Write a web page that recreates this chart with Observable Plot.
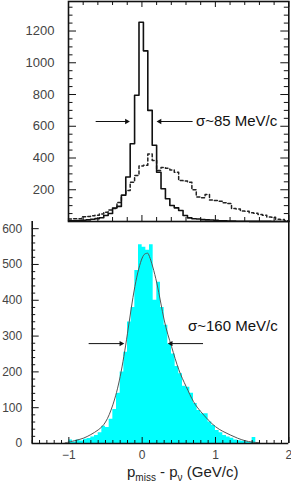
<!DOCTYPE html>
<html><head><meta charset="utf-8">
<script src="https://cdn.jsdelivr.net/npm/d3@7"></script>
<script src="https://cdn.jsdelivr.net/npm/@observablehq/plot@0.6"></script>
<style>
html,body{margin:0;padding:0;background:#fff;}
#wrap{position:relative;width:291px;height:485px;overflow:hidden;font-family:"Liberation Sans",Arial,sans-serif;}
#wrap svg{position:absolute;left:0;top:0;}
#xlabel{position:absolute;left:127px;top:463px;font-size:15px;line-height:18px;color:#222;white-space:nowrap;}
#xlabel .s{font-size:10px;position:relative;top:4px;}
</style></head><body>
<div id="wrap"><div id="xlabel">p<span class="s">miss</span> - p<span class="s">ν</span> (GeV/c)</div></div>
<script>
// ---------- top panel: two histograms (50 bins of 0.06 from -1 to 2)
const topBinStart = -1;
const topBinWidth = 0.06;
const topSolid = [4,5,6,8,10,14,18,24,38,50, 85,95,165,280,490,795,1255,1075,700,480,
  310,206,143,101,86,69,38,23,17,16, 12,10,9,7,5,4,3,3,2,2, 2,1,1,1,1,1,0,0,0,0];
const topDashed = [15,17,18,30,32,36,40,48,58,72, 82,120,165,195,248,290,350,355,425,385,
  322,340,335,325,310,258,255,248,200,155, 150,170,135,132,128,118,113,82,78,66,
  64,55,52,44,40,28,26,14,12,5];
const topYTickLabels = [200,400,600,800,1000,1200];
const topArrows = [{x1:-0.63, x2:-0.18, y:630, dir:1}, {x1:0.69, x2:0.215, y:630, dir:-1}];
const topNote = [{x:0.735, y:630, text:"σ~85 MeV/c"}];

// ---------- bottom panel: histogram (bins of 0.05 from -1.05) + fitted curve
const botBinStart = -1.05;
const botBinWidth = 0.05;
const botCounts = [0,10,4,10,7,12,14,18,22,30, 48,45,68,95,140,200,255,339,380,483,
  555,548,540,555,400,450,380,330,278,250, 215,195,160,157,140,112,92,83,83,60,
  50,36,30,22,18,15,10,8,6,5, 3,17,0];
const fitX = [-1.05,-1.0,-0.9,-0.8,-0.7,-0.6,-0.5,-0.4,-0.3,-0.2,-0.1,0,0.06,0.1,0.2,0.3,0.4,0.5,0.6,0.7,0.8,0.9,1.0,1.1,1.2,1.3,1.4,1.5,1.6];
const fitY = [2,4,9,15,25,38,60,108,187,308,438,518,531,522,448,345,271,206,159,117,89,66,47,34,24,15,8,4,2];
const botXTickLabels = [-1,0,1,2];
const botYTickLabels = [0,100,200,300,400,500,600];
const botArrows = [{x1:-0.73, x2:-0.26, y:279, dir:1}, {x1:0.83, x2:0.365, y:279, dir:-1}];
const botNote = [{x:0.625, y:327, text:"σ~160 MeV/c"}];

const W = 291;
const font = '"Liberation Sans", Arial, sans-serif';
const ink = "#111";
const fmt = d => (d < 0 ? "\u2212" + (-d) : String(d));

function stepPoints(start, w, vals) {
  const pts = vals.map((v, i) => ({x: start + i * w, y: v}));
  pts.push({x: start + vals.length * w, y: vals[vals.length - 1]});
  return pts;
}
function arrowMarks(arr) {
  return [
    Plot.link(arr, {x1: "x1", x2: "x2", y1: "y", y2: "y", stroke: ink, strokeWidth: 1}),
    Plot.dot(arr.filter(d => d.dir > 0), {x: "x2", y: "y", symbol: "triangle2", rotate: 90, r: 2.6, fill: ink, dx: -2}),
    Plot.dot(arr.filter(d => d.dir < 0), {x: "x2", y: "y", symbol: "triangle2", rotate: -90, r: 2.6, fill: ink, dx: 2})
  ];
}

// ---------- top plot
{
  const ml = 68, mr = 2.7, mt = 1, mb = 1, H = 222;
  const xd = [-1, 2], yd = [0, 1386];
  const kx = (W - ml - mr) / (xd[1] - xd[0]);
  const ky = (H - mt - mb) / (yd[1] - yd[0]);
  const yT = d3.range(0, 1351, 50);
  const xT = d3.range(0, 16).map(i => -1 + i * 0.2);
  const yLen = v => (v % 200 === 0 ? 8 : 4.5);
  const xLen = v => (Math.abs(v - Math.round(v)) < 1e-6 ? 6 : 4);
  const p = Plot.plot({
    width: W, height: H, marginLeft: ml, marginRight: mr, marginTop: mt, marginBottom: mb,
    style: {background: "transparent", fontFamily: font, fontSize: "13px", color: "#444", overflow: "visible"},
    x: {domain: xd, axis: null},
    y: {domain: yd, ticks: topYTickLabels, tickFormat: fmt, tickSize: 0, tickPadding: 14, label: null},
    marks: [
      Plot.lineY(stepPoints(topBinStart, topBinWidth, topDashed), {x: "x", y: "y", curve: "step-after", stroke: "#222", strokeWidth: 1.5, strokeDasharray: "3,2.5"}),
      Plot.lineY(stepPoints(topBinStart, topBinWidth, topSolid), {x: "x", y: "y", curve: "step-after", stroke: ink, strokeWidth: 1.6}),
      Plot.ruleY(yT, {y: d => d, x1: xd[0], x2: d => xd[0] + yLen(d) / kx, stroke: ink}),
      Plot.ruleY(yT, {y: d => d, x1: d => xd[1] - yLen(d) / kx, x2: xd[1], stroke: ink}),
      Plot.ruleX(xT, {x: d => d, y1: yd[0], y2: d => yd[0] + xLen(d) / ky, stroke: ink}),
      Plot.ruleX(xT, {x: d => d, y1: d => yd[1] - xLen(d) / ky, y2: yd[1], stroke: ink}),
      Plot.frame({stroke: ink, strokeWidth: 1.6}),
      ...arrowMarks(topArrows),
      Plot.text(topNote, {x: "x", y: "y", text: "text", textAnchor: "start", fontSize: 15, fill: "#111"})
    ]
  });
  document.getElementById("wrap").appendChild(p);
}

// ---------- bottom plot
{
  const ml = 31.7, mr = 2.7, mt = 221, mb = 20, H = 463;
  const xd = [-1.5, 2], yd = [0, 620];
  const kx = (W - ml - mr) / (xd[1] - xd[0]);
  const ky = (H - mt - mb) / (yd[1] - yd[0]);
  const yT = d3.range(0, 601, 20);
  const xT = d3.range(0, 36).map(i => -1.5 + i * 0.1);
  const yLen = v => (v % 100 === 0 ? 7 : 3.5);
  const xLen = v => (Math.abs(v - Math.round(v)) < 1e-6 ? 6 : 3);
  const fit = fitX.map((x, i) => ({x, y: fitY[i]}));
  const p = Plot.plot({
    width: W, height: H, marginLeft: ml, marginRight: mr, marginTop: mt, marginBottom: mb,
    style: {background: "transparent", fontFamily: font, fontSize: "12px", color: "#444", overflow: "visible"},
    x: {domain: xd, ticks: botXTickLabels, tickFormat: fmt, tickSize: 0, tickPadding: 7, label: null},
    y: {domain: yd, ticks: botYTickLabels, tickFormat: fmt, tickSize: 0, tickPadding: 10, label: null},
    marks: [
      Plot.areaY(stepPoints(botBinStart, botBinWidth, botCounts), {x: "x", y: "y", curve: "step-after", fill: "#00ffff"}),
      Plot.lineY(fit, {x: "x", y: "y", curve: "natural", stroke: "#555", strokeWidth: 1}),
      Plot.ruleY(yT, {y: d => d, x1: xd[0], x2: d => xd[0] + yLen(d) / kx, stroke: ink}),
      Plot.ruleX(xT, {x: d => d, y1: yd[0], y2: d => yd[0] + xLen(d) / ky, stroke: ink}),
      Plot.ruleX([xd[0], xd[1]], {stroke: ink, strokeWidth: 1.6}),
      Plot.ruleY([0], {stroke: ink, strokeWidth: 1.6}),
      ...arrowMarks(botArrows),
      Plot.text(botNote, {x: "x", y: "y", text: "text", textAnchor: "start", fontSize: 15, fill: "#111"})
    ]
  });
  const wrap = document.getElementById("wrap");
  wrap.insertBefore(p, wrap.firstChild);
}
</script>
</body></html>
